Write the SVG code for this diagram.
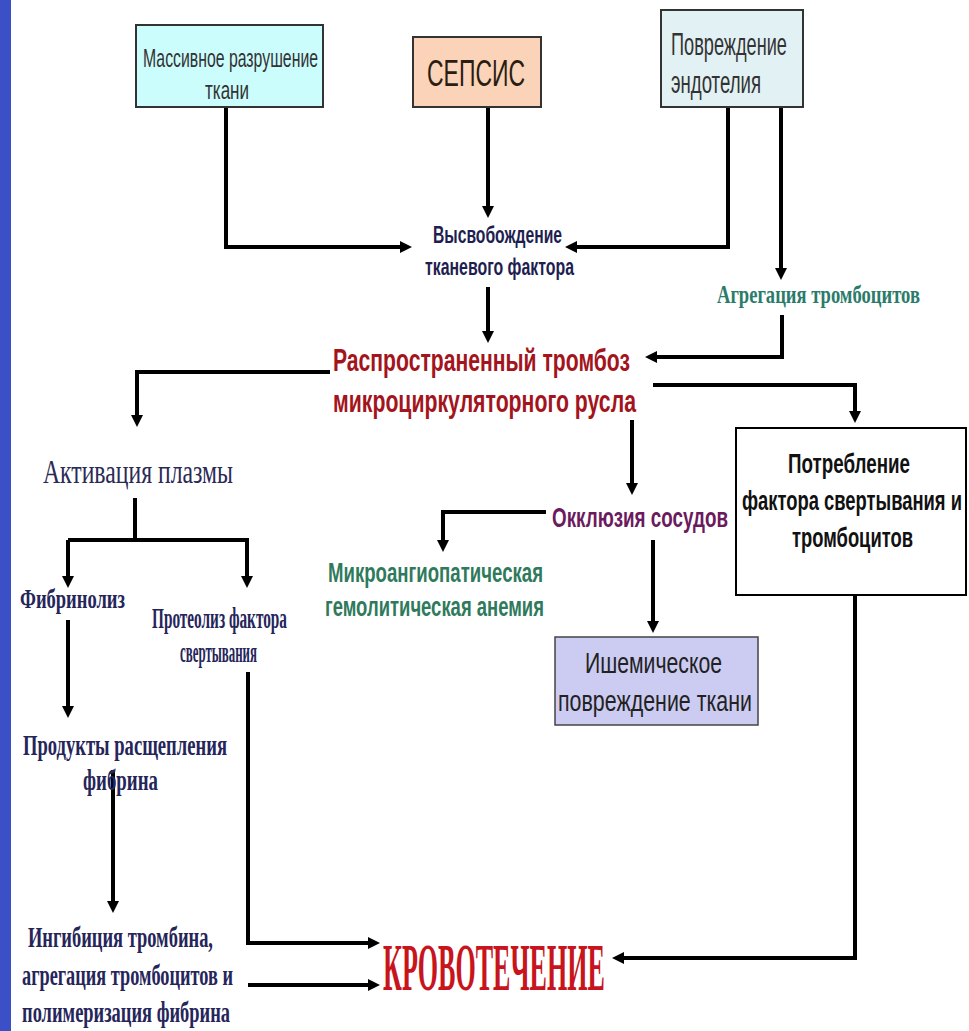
<svg xmlns="http://www.w3.org/2000/svg" width="969" height="1031" viewBox="0 0 969 1031">
<defs>
<marker id="ah" markerUnits="userSpaceOnUse" markerWidth="14" markerHeight="14" refX="2" refY="6" orient="auto">
<path d="M0,0 L12,6 L0,12 z" fill="#000"/>
</marker>
<style>
.c{fill:none;stroke:#000;stroke-width:4;marker-end:url(#ah)}
.cn{fill:none;stroke:#000;stroke-width:4}
.sans{font-family:"Liberation Sans",Arial,sans-serif}
.serif{font-family:"Liberation Serif","Times New Roman",serif}
.b{font-weight:bold}
</style>
</defs>
<rect x="0" y="0" width="969" height="1031" fill="#fff"/>
<rect x="0" y="0" width="11" height="1031" fill="#3b4fc6"/>

<g id="connectors">
<path class="c" d="M226,107 V247 H402"/>
<path class="c" d="M488,107 V208"/>
<path class="c" d="M728,107 V247 H575"/>
<path class="c" d="M781,107 V270"/>
<path class="c" d="M488,287 V333"/>
<path class="c" d="M782,315 V357 H655"/>
<path class="c" d="M653,385 H855 V413"/>
<path class="c" d="M330,372 H137 V417"/>
<path class="c" d="M632,420 V485"/>
<path class="c" d="M546,512 H443 V542"/>
<path class="c" d="M653,540 V623"/>
<path class="cn" d="M135,498 V540"/>
<path class="c" d="M68,540 H247 V578"/>
<path class="c" d="M68,540 V578"/>
<path class="c" d="M68,620 V708"/>
<path class="c" d="M113,770 V903"/>
<path class="c" d="M248,672 V943 H370"/>
<path class="c" d="M248,985 H370"/>
<path class="c" d="M855,595 V958 H622"/>
</g>

<g id="n-massive">
<rect x="136" y="25" width="187" height="82" fill="#ccfdfd" stroke="#333" stroke-width="2"/>
<text class="sans" transform="translate(143,67) scale(0.62,1)" font-size="26" fill="#333" textLength="282.3" lengthAdjust="spacingAndGlyphs">Массивное разрушение</text>
<text class="sans" transform="translate(205,99) scale(0.62,1)" font-size="26" fill="#333" textLength="71" lengthAdjust="spacingAndGlyphs">ткани</text>
</g>

<g id="n-sepsis">
<rect x="413" y="37" width="128" height="70" fill="#fbd3b8" stroke="#333" stroke-width="2"/>
<text class="sans" transform="translate(427,86) scale(0.63,1)" font-size="37" fill="#2b1d12" textLength="155.6" lengthAdjust="spacingAndGlyphs">СЕПСИС</text>
</g>

<g id="n-endo">
<rect x="661" y="10" width="142" height="97" fill="#e2f1f3" stroke="#333" stroke-width="2"/>
<text class="sans" transform="translate(671,55) scale(0.63,1)" font-size="31" fill="#333" textLength="184" lengthAdjust="spacingAndGlyphs">Повреждение</text>
<text class="sans" transform="translate(671,93) scale(0.6,1)" font-size="31" fill="#333" textLength="150" lengthAdjust="spacingAndGlyphs">эндотелия</text>
</g>

<g id="n-release">
<text class="sans b" transform="translate(433,243) scale(0.7,1)" font-size="24" fill="#1e1e50" textLength="184.3" lengthAdjust="spacingAndGlyphs">Высвобождение</text>
<text class="sans b" transform="translate(425,275) scale(0.62,1)" font-size="24" fill="#1e1e50" textLength="240.3" lengthAdjust="spacingAndGlyphs">тканевого фактора</text>
</g>

<g id="n-aggreg">
<text class="serif b" transform="translate(717,303) scale(0.74,1)" font-size="25" fill="#2b7b6b" textLength="274.3" lengthAdjust="spacingAndGlyphs">Агрегация тромбоцитов</text>
</g>

<g id="n-thrombosis">
<text class="sans b" transform="translate(333,371) scale(0.66,1)" font-size="32" fill="#a3141c" textLength="450" lengthAdjust="spacingAndGlyphs">Распространенный тромбоз</text>
<text class="sans b" transform="translate(333,412) scale(0.64,1)" font-size="32" fill="#a3141c" textLength="473.4" lengthAdjust="spacingAndGlyphs">микроциркуляторного русла</text>
</g>

<g id="n-consumption">
<rect x="736" y="428" width="230" height="167" fill="#fff" stroke="#000" stroke-width="2"/>
<text class="sans b" transform="translate(788,473) scale(0.67,1)" font-size="28" fill="#111" textLength="182.1" lengthAdjust="spacingAndGlyphs">Потребление</text>
<text class="sans b" transform="translate(742,510) scale(0.63,1)" font-size="28" fill="#111" textLength="349.2" lengthAdjust="spacingAndGlyphs">фактора свертывания и</text>
<text class="sans b" transform="translate(792,547) scale(0.66,1)" font-size="28" fill="#111" textLength="183.3" lengthAdjust="spacingAndGlyphs">тромбоцитов</text>
</g>

<g id="n-occlusion">
<text class="sans b" transform="translate(552,527) scale(0.69,1)" font-size="27" fill="#6b1a5e" textLength="255" lengthAdjust="spacingAndGlyphs">Окклюзия сосудов</text>
</g>

<g id="n-anemia">
<text class="sans b" transform="translate(328,582) scale(0.67,1)" font-size="27" fill="#2f7a5c" textLength="320.9" lengthAdjust="spacingAndGlyphs">Микроангиопатическая</text>
<text class="sans b" transform="translate(325,616) scale(0.65,1)" font-size="27" fill="#2f7a5c" textLength="336.9" lengthAdjust="spacingAndGlyphs">гемолитическая анемия</text>
</g>

<g id="n-ischemia">
<rect x="555" y="637" width="203" height="88" fill="#ccccf2" stroke="#444" stroke-width="1.5"/>
<text class="sans" transform="translate(585,673) scale(0.8,1)" font-size="29" fill="#222" textLength="171.25" lengthAdjust="spacingAndGlyphs">Ишемическое</text>
<text class="sans" transform="translate(558,711) scale(0.73,1)" font-size="29" fill="#222" textLength="265.75" lengthAdjust="spacingAndGlyphs">повреждение ткани</text>
</g>

<g id="n-plasma">
<text class="serif" transform="translate(43,483) scale(0.75,1)" font-size="33" fill="#2a2a55" textLength="253.3" lengthAdjust="spacingAndGlyphs">Активация плазмы</text>
</g>

<g id="n-fibrinolysis">
<text class="serif b" transform="translate(20,608) scale(0.72,1)" font-size="28" fill="#25255a" textLength="145.8" lengthAdjust="spacingAndGlyphs">Фибринолиз</text>
</g>

<g id="n-proteolysis">
<text class="serif b" transform="translate(152,628) scale(0.53,1)" font-size="29" fill="#25255a" textLength="254.7" lengthAdjust="spacingAndGlyphs">Протеолиз фактора</text>
<text class="serif b" transform="translate(180,662) scale(0.46,1)" font-size="29" fill="#25255a" textLength="167.4" lengthAdjust="spacingAndGlyphs">свертывания</text>
</g>

<g id="n-products">
<text class="serif b" transform="translate(23,755) scale(0.68,1)" font-size="29" fill="#25255a" textLength="300" lengthAdjust="spacingAndGlyphs">Продукты расщепления</text>
<text class="serif b" transform="translate(83,790) scale(0.71,1)" font-size="29" fill="#25255a" textLength="105.6" lengthAdjust="spacingAndGlyphs">фибрина</text>
</g>

<g id="n-inhibition">
<text class="serif b" transform="translate(28,947) scale(0.65,1)" font-size="29" fill="#25255a" textLength="284.6" lengthAdjust="spacingAndGlyphs">Ингибиция тромбина,</text>
<text class="serif b" transform="translate(22,985) scale(0.61,1)" font-size="29" fill="#25255a" textLength="345.9" lengthAdjust="spacingAndGlyphs">агрегация тромбоцитов и</text>
<text class="serif b" transform="translate(22,1022) scale(0.66,1)" font-size="29" fill="#25255a" textLength="315.2" lengthAdjust="spacingAndGlyphs">полимеризация фибрина</text>
</g>

<g id="n-bleeding">
<text class="serif b" transform="translate(383,990) scale(0.38,1)" font-size="68" fill="#c8141c" textLength="584.2" lengthAdjust="spacingAndGlyphs">КРОВОТЕЧЕНИЕ</text>
</g>
</svg>
